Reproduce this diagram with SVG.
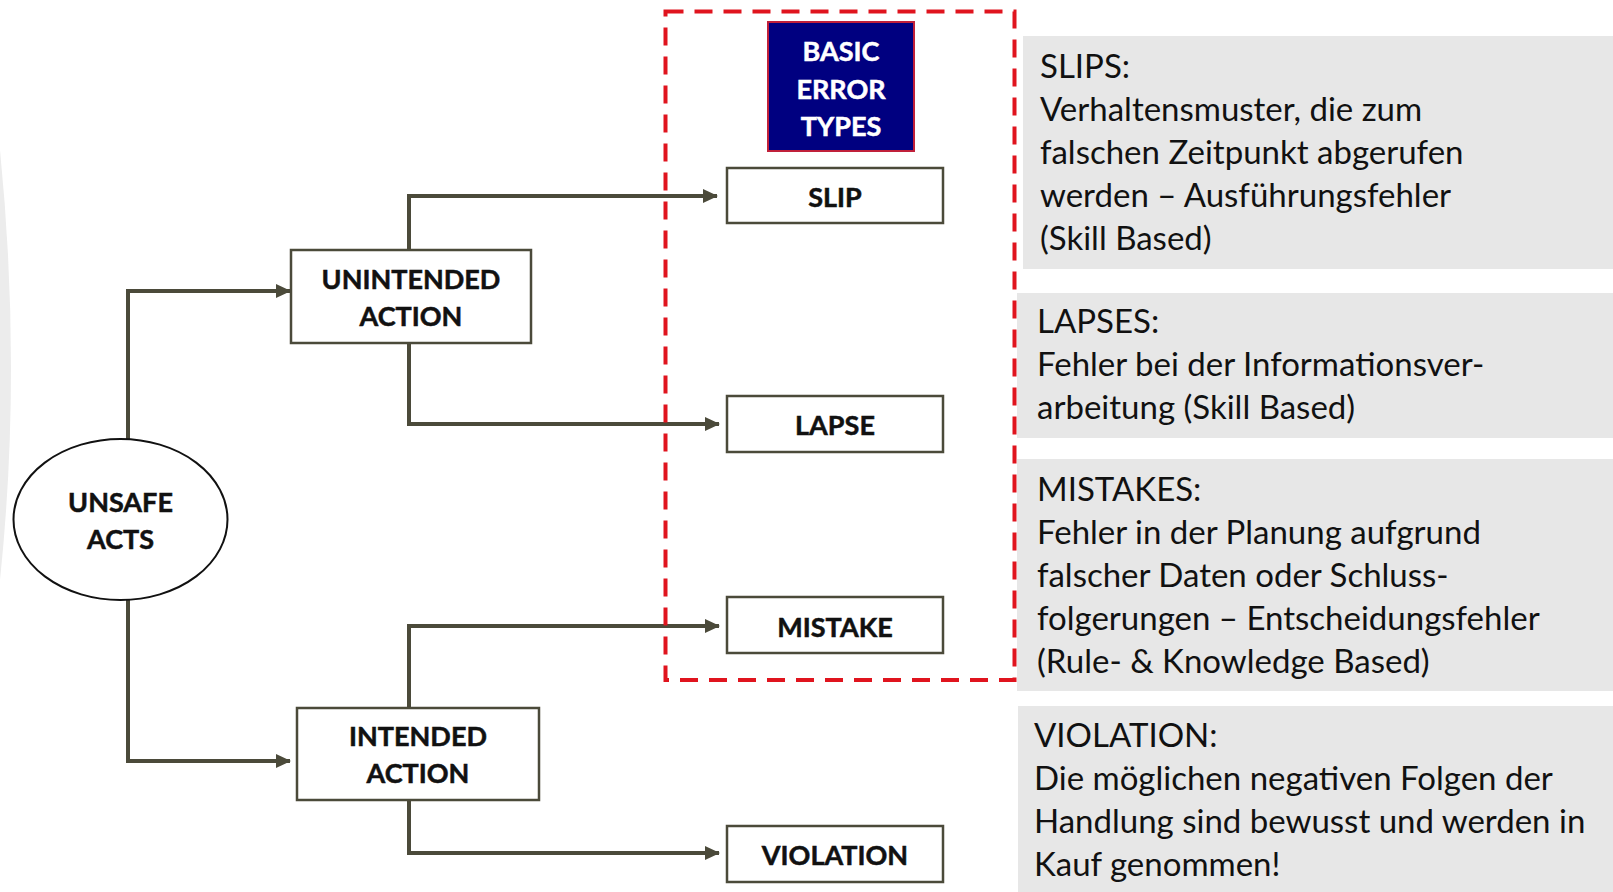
<svg xmlns="http://www.w3.org/2000/svg" width="1613" height="892" viewBox="0 0 1613 892">
<defs>
<marker id="arr" markerUnits="userSpaceOnUse" markerWidth="16" markerHeight="14" refX="14" refY="7" orient="auto">
<path d="M0,0 L15,7 L0,14 Z" fill="#4b4a3a"/>
</marker>
<style>
.box{fill:#fff;stroke:#4b4a3a;stroke-width:2.5}
.lbl{font-family:Lato,"Liberation Sans",sans-serif;font-weight:700;font-size:27px;fill:#111;stroke:#111;stroke-width:0.5;text-anchor:middle;dominant-baseline:central}
.wh{fill:#fff;stroke:#fff}
.con{fill:none;stroke:#4b4a3a;stroke-width:4;marker-end:url(#arr)}
.panel{fill:#e7e7e7}
.body{font-family:Lato,"Liberation Sans",sans-serif;font-size:33px;fill:#111}
</style>
</defs>
<rect width="1613" height="892" fill="#fff"/>
<path d="M0,150 Q22,370 0,580 Z" fill="#ececec"/>

<g id="panel-slips">
<rect class="panel" x="1023" y="36" width="590" height="233"/>
<text class="body" x="1040" y="78">SLIPS:</text>
<text class="body" x="1040" y="121">Verhaltensmuster, die zum</text>
<text class="body" x="1040" y="164">falschen Zeitpunkt abgerufen</text>
<text class="body" x="1040" y="207">werden – Ausführungsfehler</text>
<text class="body" x="1040" y="250">(Skill Based)</text>
</g>
<g id="panel-lapses">
<rect class="panel" x="1017" y="293" width="596" height="145"/>
<text class="body" x="1037" y="333">LAPSES:</text>
<text class="body" x="1037" y="376">Fehler bei der Informationsver-</text>
<text class="body" x="1037" y="419">arbeitung (Skill Based)</text>
</g>
<g id="panel-mistakes">
<rect class="panel" x="1017" y="459" width="596" height="232"/>
<text class="body" x="1037" y="501">MISTAKES:</text>
<text class="body" x="1037" y="544">Fehler in der Planung aufgrund</text>
<text class="body" x="1037" y="587">falscher Daten oder Schluss-</text>
<text class="body" x="1037" y="630">folgerungen – Entscheidungsfehler</text>
<text class="body" x="1037" y="673">(Rule- &amp; Knowledge Based)</text>
</g>
<g id="panel-violation">
<rect class="panel" x="1018" y="706" width="595" height="186"/>
<text class="body" x="1034" y="747">VIOLATION:</text>
<text class="body" x="1034" y="790">Die möglichen negativen Folgen der</text>
<text class="body" x="1034" y="833">Handlung sind bewusst und werden in</text>
<text class="body" x="1034" y="876">Kauf genommen!</text>
</g>

<g id="connectors">
<path class="con" d="M128,439 V291 H290"/>
<path class="con" d="M128,600 V761 H290"/>
<path class="con" d="M409,250 V196 H717"/>
<path class="con" d="M409,343 V424 H719"/>
<path class="con" d="M409,708 V626 H719"/>
<path class="con" d="M409,800 V853 H719"/>
</g>

<g id="unsafe-acts">
<ellipse cx="120.5" cy="519.5" rx="107" ry="80.5" fill="#fff" stroke="#111" stroke-width="2"/>
<text class="lbl" x="120.5" y="501">UNSAFE</text>
<text class="lbl" x="120.5" y="538">ACTS</text>
</g>
<g id="unintended-action">
<rect class="box" x="291" y="250" width="240" height="93"/>
<text class="lbl" x="411" y="278">UNINTENDED</text>
<text class="lbl" x="411" y="315">ACTION</text>
</g>
<g id="intended-action">
<rect class="box" x="297" y="708" width="242" height="92"/>
<text class="lbl" x="418" y="735">INTENDED</text>
<text class="lbl" x="418" y="772">ACTION</text>
</g>
<g id="basic-error-types">
<rect x="768" y="22" width="146" height="129" fill="#000080" stroke="#c0203a" stroke-width="2"/>
<text class="lbl wh" x="841" y="50">BASIC</text>
<text class="lbl wh" x="841" y="88">ERROR</text>
<text class="lbl wh" x="841" y="125">TYPES</text>
</g>
<g id="slip">
<rect class="box" x="727" y="168" width="216" height="55"/>
<text class="lbl" x="835" y="196">SLIP</text>
</g>
<g id="lapse">
<rect class="box" x="727" y="396" width="216" height="56"/>
<text class="lbl" x="835" y="424">LAPSE</text>
</g>
<g id="mistake">
<rect class="box" x="727" y="597" width="216" height="56"/>
<text class="lbl" x="835" y="626">MISTAKE</text>
</g>
<g id="violation">
<rect class="box" x="727" y="826" width="216" height="56"/>
<text class="lbl" x="835" y="854">VIOLATION</text>
</g>

<g id="error-types-frame">
<rect x="665.5" y="11.5" width="349" height="668.5" fill="none" stroke="#e0141e" stroke-width="4" stroke-dasharray="18 11"/>
</g>
</svg>
